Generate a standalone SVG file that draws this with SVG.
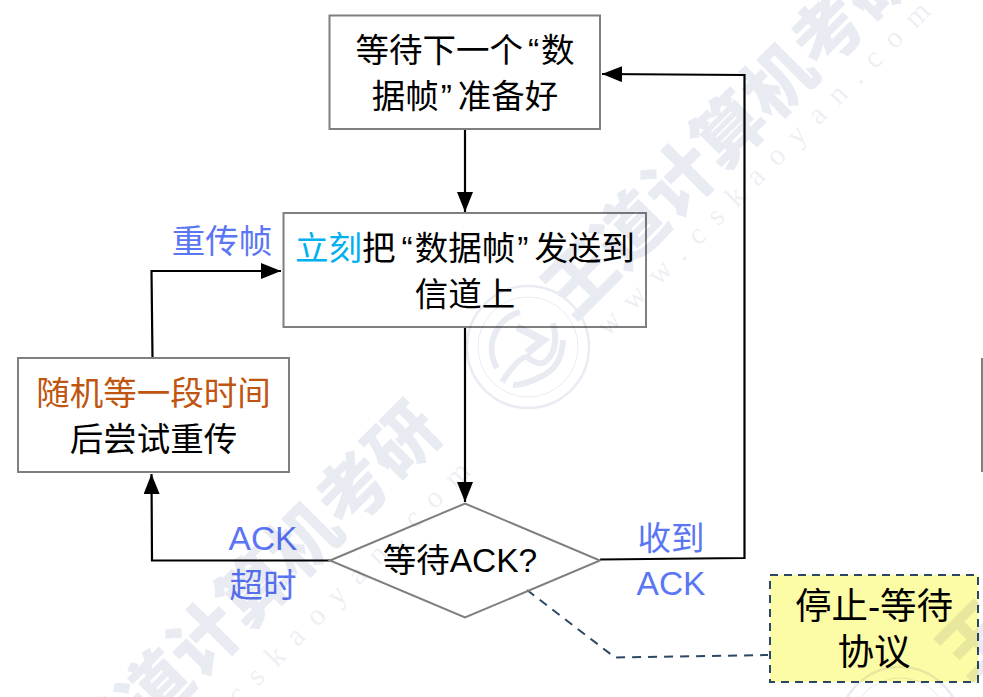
<svg xmlns="http://www.w3.org/2000/svg" width="983" height="697" viewBox="0 0 983 697">
<style>
text{font-family:"Liberation Sans","Noto Sans CJK SC",sans-serif;font-size:33.5px;fill:#000;text-anchor:middle}
.box{fill:none;stroke:#7f7f7f;stroke-width:2}
.wire{fill:none;stroke:#000;stroke-width:2.2}
.lbl{fill:#5b76f4}
#watermark{mix-blend-mode:multiply}
.wm{font-family:"Noto Sans CJK SC",sans-serif;font-weight:900;font-size:70px;fill:#e9ebf3}
.url{font-family:"Liberation Serif",serif;font-size:30px;fill:#eeeff5;letter-spacing:14.500px}
.seal{fill:none;stroke:#e9ebf3}
.note-text{font-size:36.500px}
</style>
<defs>
<marker id="arrow" markerUnits="userSpaceOnUse" markerWidth="20" markerHeight="16" refX="20" refY="8" orient="auto"><path d="M0 0L20 8L0 16Z" fill="#000"/></marker>
</defs>
<rect width="983" height="697" fill="#fff"/>
<g id="connectors">
<path class="wire" marker-end="url(#arrow)" d="M465 129V212"/>
<path class="wire" marker-end="url(#arrow)" d="M465 327V502"/>
<path class="wire" marker-end="url(#arrow)" d="M330 560.500H152L151.500 474"/>
<path class="wire" marker-end="url(#arrow)" d="M152.500 358L151.500 271H281"/>
<path class="wire" marker-end="url(#arrow)" d="M600 559.500L744.500 558V75L602 74"/>
<path d="M527 590L615 657.500L768 655" fill="none" stroke="#2c4763" stroke-width="2" stroke-dasharray="9 7"/>
</g>
<g id="wait-frame"><rect class="box" x="329.500" y="15.500" width="270.500" height="113.500"/>
<text x="465" y="62">等待下一个<tspan dx="5">“</tspan><tspan dx="2">数</tspan></text><text x="465" y="108">据帧<tspan dx="2">”</tspan><tspan dx="6">准备好</tspan></text></g>
<g id="send-frame"><rect class="box" x="283.500" y="213" width="362.500" height="114"/>
<text x="465" y="260"><tspan style="fill:#00b0f0">立刻</tspan>把<tspan dx="6">“</tspan><tspan dx="2">数据帧</tspan><tspan dx="2">”</tspan><tspan dx="6">发送到</tspan></text><text x="465" y="306">信道上</text></g>
<g id="backoff"><rect class="box" x="18" y="358" width="271" height="114"/>
<text x="153.500" y="405" style="fill:#bf5510">随机等一段时间</text><text x="153.500" y="451">后尝试重传</text></g>
<g id="wait-ack"><path class="box" d="M330 560.500L465 503.500L600 560.500L465 617.500Z"/>
<text x="460" y="572">等待ACK?</text></g>
<g id="note"><rect x="770" y="575" width="208" height="107" fill="#fdfca6" stroke="#2c4763" stroke-width="2" stroke-dasharray="8 6"/>
<text class="note-text" x="874" y="619">停止-等待</text><text class="note-text" x="874" y="665">协议</text></g>
<g id="labels">
<text class="lbl" x="222" y="253">重传帧</text>
<text class="lbl" x="263" y="550">ACK</text>
<text class="lbl" x="263" y="597">超时</text>
<text class="lbl" x="671" y="550">收到</text>
<text class="lbl" x="671" y="595">ACK</text>
</g>
<path id="edge-line" d="M982 358V472" stroke="#7f7f7f" stroke-width="2" fill="none"/>
<g id="watermark">
<text class="wm" transform="translate(747 148) rotate(-45)">王道计算机考研</text>
<text class="wm" transform="translate(272 607) rotate(-45)">王道计算机考研</text>
<text class="wm" transform="translate(993 658) rotate(-45)">王</text>
<text class="url" transform="translate(775 170) rotate(-45)">www.cskaoyan.com</text>
<text class="url" transform="translate(315 630) rotate(-45)">www.cskaoyan.com</text>
<g class="seal"><circle cx="528" cy="347" r="61" stroke-width="2.500"/><circle cx="528" cy="347" r="50" stroke-width="1"/><path d="M520 312A38 38 0 0 0 497 368" stroke-width="6"/><path d="M502 382Q520 355 527 357Q538 366 545 362Q560 350 553 323M563 340Q562 368 540 377Q525 385 513 385" stroke-width="6"/><path d="M517 327L543 340L527 353" stroke-width="8"/></g>
<g class="seal"><circle cx="900" cy="728" r="61" stroke-width="2.500"/><circle cx="900" cy="728" r="50" stroke-width="1"/></g>
</g>
</svg>
